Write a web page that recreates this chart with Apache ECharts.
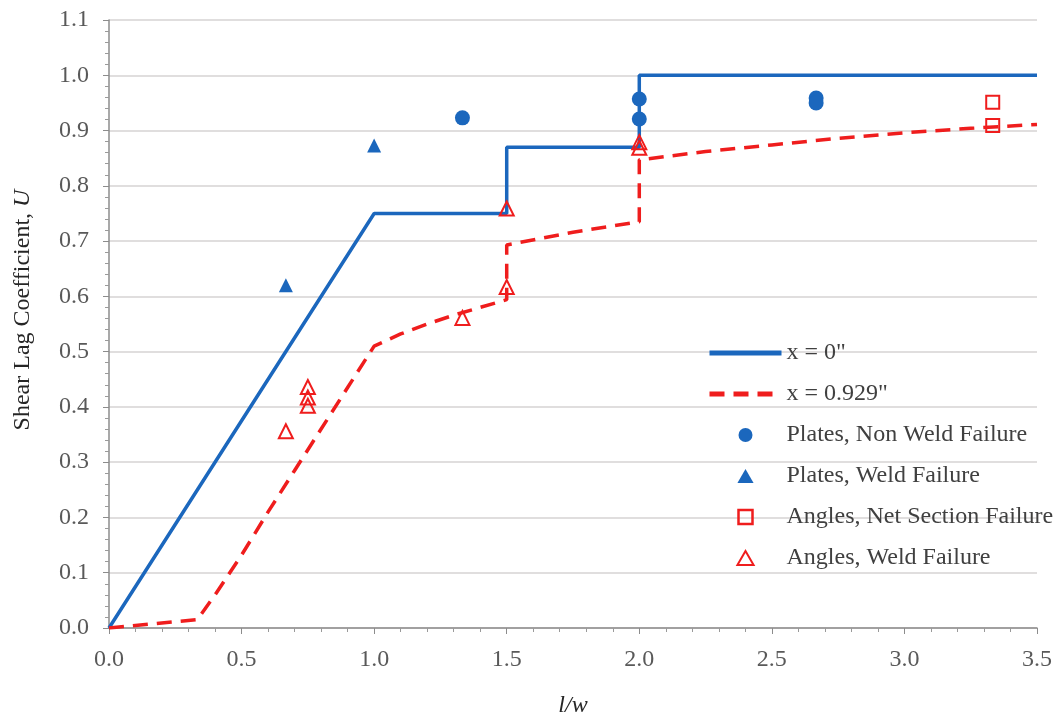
<!DOCTYPE html>
<html>
<head>
<meta charset="utf-8">
<script src="https://cdn.jsdelivr.net/npm/echarts@6/dist/echarts.min.js"></script>
<style>
html,body{margin:0;padding:0;background:#fff;}
#chart{width:1060px;height:716px;}
</style>
</head>
<body>
<div id="chart"></div>
<script>
// ---- data ----
const line0X = [0, 1.0, 1.5, 1.5, 2.0, 2.0, 3.5];
const line0U = [0, 0.75, 0.75, 0.87, 0.87, 1.0, 1.0];

const line929X = [0, 0.333, 0.4, 0.5, 0.6, 0.7, 0.8, 0.9, 1.0, 1.1, 1.2, 1.3, 1.4, 1.5, 1.5, 1.75, 2.0, 2.0, 2.25, 2.5, 2.75, 3.0, 3.25, 3.5];
const line929U = [0, 0.015, 0.06, 0.132, 0.21, 0.285, 0.36, 0.435, 0.51, 0.532, 0.55, 0.566, 0.58, 0.594, 0.693, 0.716, 0.735, 0.847, 0.862, 0.874, 0.886, 0.896, 0.904, 0.911];

const platesNonWeldX = [1.333, 2.0, 2.0, 2.667, 2.667];
const platesNonWeldU = [0.923, 0.957, 0.921, 0.959, 0.950];

const platesWeldX = [0.667, 1.0];
const platesWeldU = [0.62, 0.873];

const anglesNetX = [3.333, 3.333];
const anglesNetU = [0.951, 0.909];

const anglesWeldX = [0.667, 0.75, 0.75, 0.75, 1.333, 1.5, 1.5, 2.0, 2.0];
const anglesWeldU = [0.356, 0.436, 0.417, 0.402, 0.561, 0.617, 0.759, 0.879, 0.869];

const seriesNames = ['x = 0"', 'x = 0.929"', 'Plates, Non Weld Failure', 'Plates, Weld Failure', 'Angles, Net Section Failure', 'Angles, Weld Failure'];
const xAxisTitle = 'l/w';
const yAxisTitle = 'Shear Lag Coefficient, ';
const yAxisTitleVar = 'U';

// ---- helpers ----
const pairs = (xs, ys) => xs.map((x, i) => [x, ys[i]]);

const BLUE = '#1b67bd';
const RED = '#ef1d1d';
const FONT = '"Liberation Serif", "Times New Roman", serif';

// legend icon shapes (path icons keep their aspect ratio inside the legend box)
const ICON_TRIANGLE = 'path://M6,0 L12,10.4 L0,10.4 Z';
const ICON_SQUARE = 'path://M0,0 L12,0 L12,12 L0,12 Z';

const chart = echarts.init(document.getElementById('chart'), null, {renderer: 'canvas'});

const legendData = [
  {name: seriesNames[0], itemStyle: {opacity: 0}, lineStyle: {width: 5}},
  {name: seriesNames[1], itemStyle: {opacity: 0}, lineStyle: {width: 5}},
  {name: seriesNames[2], icon: 'circle'},
  {name: seriesNames[3], icon: ICON_TRIANGLE},
  {name: seriesNames[4], icon: ICON_SQUARE, itemStyle: {borderWidth: 2.5}},
  {name: seriesNames[5], icon: ICON_TRIANGLE, itemStyle: {borderWidth: 2}}
];

chart.setOption({
  backgroundColor: '#ffffff',
  animation: false,
  textStyle: {fontFamily: FONT},
  grid: {left: 109, right: 23, top: 20, bottom: 88, containLabel: false, outerBoundsMode: 'none'},
  legend: {
    orient: 'vertical',
    left: 707,
    top: 341,
    padding: 0,
    itemWidth: 72,
    itemHeight: 14,
    itemGap: 17,
    symbolKeepAspect: true,
    textStyle: {fontFamily: FONT, fontSize: 24, color: '#404040'},
    data: legendData
  },
  xAxis: {
    type: 'value',
    min: 0, max: 3.5, interval: 0.5,
    name: xAxisTitle,
    nameLocation: 'middle',
    nameGap: 66,
    nameTextStyle: {fontFamily: FONT, fontSize: 24, fontStyle: 'italic', color: '#262626'},
    axisLine: {show: true, onZero: false, lineStyle: {color: '#8c8c8c', width: 1.5}},
    axisTick: {show: true, length: 6, lineStyle: {color: '#8c8c8c'}},
    minorTick: {show: true, splitNumber: 5, length: 4, lineStyle: {color: '#9a9a9a'}},
    axisLabel: {fontFamily: FONT, fontSize: 24, color: '#595959', margin: 20, formatter: v => v.toFixed(1)},
    splitLine: {show: false}
  },
  yAxis: {
    type: 'value',
    min: 0, max: 1.1, interval: 0.1,
    name: '{a|' + yAxisTitle + '}{b|' + yAxisTitleVar + '}',
    nameLocation: 'middle',
    nameGap: 74,
    nameRotate: 90,
    nameTextStyle: {
      fontFamily: FONT, fontSize: 24, color: '#262626',
      padding: [0, 0, 0, 28],
      rich: {
        a: {fontFamily: FONT, fontSize: 24, color: '#262626'},
        b: {fontFamily: FONT, fontSize: 24, color: '#262626', fontStyle: 'italic'}
      }
    },
    axisLine: {show: true, onZero: false, lineStyle: {color: '#8c8c8c', width: 1.5}},
    axisTick: {show: true, length: 6, lineStyle: {color: '#8c8c8c'}},
    minorTick: {show: true, splitNumber: 5, length: 4, lineStyle: {color: '#9a9a9a'}},
    axisLabel: {fontFamily: FONT, fontSize: 24, color: '#595959', margin: 20, formatter: v => v.toFixed(1)},
    splitLine: {show: true, lineStyle: {color: '#d6d3d3', width: 1.5}}
  },
  series: [
    {
      name: seriesNames[0], type: 'line',
      data: pairs(line0X, line0U),
      symbol: 'none', showSymbol: false,
      lineStyle: {color: BLUE, width: 3.5},
      itemStyle: {color: BLUE},
      z: 2
    },
    {
      name: seriesNames[1], type: 'line',
      data: pairs(line929X, line929U),
      symbol: 'none', showSymbol: false,
      lineStyle: {color: RED, width: 3.5, type: [15, 9]},
      itemStyle: {color: RED},
      z: 2
    },
    {
      name: seriesNames[2], type: 'scatter',
      data: pairs(platesNonWeldX, platesNonWeldU),
      symbol: 'circle', symbolSize: 15,
      itemStyle: {color: BLUE, opacity: 1},
      z: 3
    },
    {
      name: seriesNames[3], type: 'scatter',
      data: pairs(platesWeldX, platesWeldU),
      symbol: 'triangle', symbolSize: 14,
      itemStyle: {color: BLUE, opacity: 1},
      z: 3
    },
    {
      name: seriesNames[4], type: 'scatter',
      data: pairs(anglesNetX, anglesNetU),
      symbol: 'rect', symbolSize: 13,
      itemStyle: {color: 'rgba(255,255,255,0)', borderColor: RED, borderWidth: 2, opacity: 1},
      z: 3
    },
    {
      name: seriesNames[5], type: 'scatter',
      data: pairs(anglesWeldX, anglesWeldU),
      symbol: 'triangle', symbolSize: 14,
      itemStyle: {color: 'rgba(255,255,255,0)', borderColor: RED, borderWidth: 2, opacity: 1},
      z: 3
    }
  ]
});
</script>
</body>
</html>
